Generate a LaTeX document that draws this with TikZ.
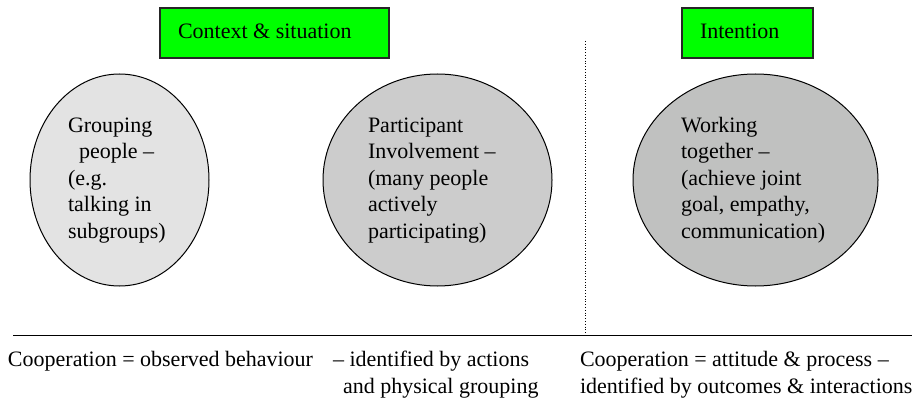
\documentclass[tikz,border=0pt]{standalone}
\usepackage{fontspec}
\setmainfont{Liberation Serif}
\usetikzlibrary{shapes.geometric}
\definecolor{boxgreen}{HTML}{00FF00}
\definecolor{ellA}{HTML}{E3E3E3}
\definecolor{ellB}{HTML}{CCCCCC}
\definecolor{ellC}{HTML}{C0C1C0}
\begin{document}
\begin{tikzpicture}[x=1pt,y=-1pt,
  every node/.style={font=\fontsize{22}{26.5}\selectfont, inner sep=0pt, outer sep=0pt},
  greenbox/.style={draw=black!85, line width=1.1pt, fill=boxgreen},
  bubble/.style={draw=black, line width=1pt, ellipse},
  txt/.style={anchor=base west, align=left}
]
\useasboundingbox (0,0) rectangle (918,398);
% green boxes
\node[greenbox, minimum width=229pt, minimum height=50pt] (ctx) at (274.5,33) {};
\node[txt] (ctxt) at (178,39) {Context \& situation};
\node[greenbox, minimum width=131pt, minimum height=50pt] (int) at (747.5,33) {};
\node[txt] (intt) at (700,39) {Intention};
% ellipses
\node[bubble, fill=ellA, minimum width=179pt, minimum height=212pt] (e1) at (119.5,180) {};
\node[bubble, fill=ellB, minimum width=229pt, minimum height=212pt] (e2) at (437.5,180) {};
\node[bubble, fill=ellC, minimum width=245pt, minimum height=212pt] (e3) at (755.5,180) {};
% multi-line texts: base anchor is the baseline of the last line
\node[txt] (t1) at (68,238) {Grouping\\\ \ people --\\(e.g.\\talking in\\subgroups)};
\node[txt] (t2) at (368,238) {Participant\\Involvement --\\(many people\\actively\\participating)};
\node[txt] (t3) at (681,238) {Working\\together --\\(achieve joint\\goal, empathy,\\communication)};
% divider lines
\coordinate (dtop) at (585,41);
\coordinate (dbot) at (585,333);
\draw[dotted, line width=0.8pt] (dtop) -- (dbot);
\coordinate (hl) at (13,335);
\coordinate (hr) at (912,335);
\draw[line width=1pt] (hl) -- (hr);
% bottom texts
\node[txt] (b1) at (8,366) {Cooperation = observed behaviour};
\node[txt] (b2) at (333,366) {-- identified by actions};
\node[txt] (b3) at (343,393) {and physical grouping};
\node[txt] (b4) at (580,366) {Cooperation = attitude \& process --};
\node[txt] (b5) at (580,393) {identified by outcomes \& interactions};
\end{tikzpicture}
\end{document}
